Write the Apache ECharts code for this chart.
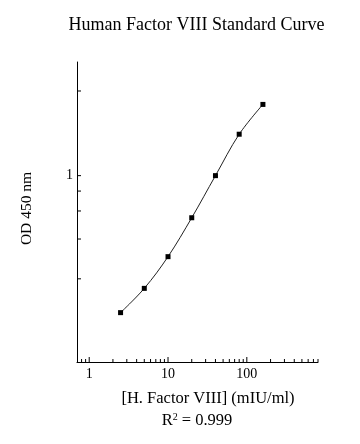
<!DOCTYPE html>
<html>
<head>
<meta charset="utf-8">
<script src="https://cdn.jsdelivr.net/npm/echarts@6/dist/echarts.min.js"></script>
<style>
html,body{margin:0;padding:0;background:#fff;}
#chart{width:360px;height:444px;}
</style>
</head>
<body>
<div id="chart"></div>
<script>
// ---- data ----
const concentrations = [2.5, 5, 10, 20, 40, 80, 160];
const odValues = [0.138, 0.196, 0.31, 0.544, 1.0, 1.82, 2.8];
const xLabels = [1, 10, 100];
const xMinorTicks = [0.8, 0.9, 2, 3, 4, 5, 6, 7, 8, 9, 20, 30, 40, 50, 60, 70, 80, 90, 200, 300, 400, 500, 600, 700, 800];
const yLabels = [1];
const yTicks = [3.4, 1, 0.8, 0.6, 0.4, 0.225];
const xRange = [0.7, 800];
const yRange = [0.0676, 5.17];

const FONT = "'Liberation Serif', 'Times New Roman', serif";

const tickData = [];
xLabels.forEach(v => tickData.push([v, yRange[0], 0]));
xMinorTicks.forEach(v => tickData.push([v, yRange[0], 1]));
yTicks.forEach(v => tickData.push([xRange[0], v, 2]));

function findLabel(list, v) {
  const m = list.find(l => Math.abs(l - v) / l < 1e-6);
  return m === undefined ? '' : String(m);
}

const chart = echarts.init(document.getElementById('chart'), null, {renderer: 'canvas'});
chart.setOption({
  animation: false,
  backgroundColor: '#fff',
  grid: {left: 77, right: 42, top: 62, bottom: 82, containLabel: false, outerBoundsMode: 'none'},
  xAxis: {
    type: 'log', logBase: 10, min: xRange[0], max: xRange[1],
    axisLine: {show: true, lineStyle: {color: '#000', width: 1}},
    axisTick: {show: false},
    splitLine: {show: false},
    minorTick: {show: false},
    axisLabel: {
      color: '#000', fontFamily: FONT, fontSize: 14, margin: 5,
      showMinLabel: true, showMaxLabel: true, hideOverlap: false,
      formatter: v => findLabel(xLabels, v)
    }
  },
  yAxis: {
    type: 'log', logBase: 10, min: yRange[0], max: yRange[1],
    axisLine: {show: true, lineStyle: {color: '#000', width: 1}},
    axisTick: {show: false},
    splitLine: {show: false},
    minorTick: {show: false},
    axisLabel: {
      color: '#000', fontFamily: FONT, fontSize: 14, margin: 4, hideOverlap: false,
      formatter: v => findLabel(yLabels, v)
    }
  },
  graphic: [
    {type: 'text', x: 196.5, y: 25, style: {text: 'Human Factor VIII Standard Curve', fontFamily: FONT, fontSize: 18, fill: '#000', align: 'center', verticalAlign: 'middle'}},
    {type: 'text', x: 208, y: 399, style: {text: '[H. Factor VIII] (mIU/ml)', fontFamily: FONT, fontSize: 16.5, fill: '#000', align: 'center', verticalAlign: 'middle'}},
    {type: 'text', x: 197, y: 421, style: {text: 'R{sup|2} = 0.999', fontFamily: FONT, fontSize: 16.5, fill: '#000', align: 'center', verticalAlign: 'middle',
      rich: {sup: {fontFamily: FONT, fontSize: 10, fill: '#000', padding: [0, 0, 8, 0]}}}},
    {type: 'text', x: 26.5, y: 208.5, rotation: Math.PI / 2, style: {text: 'OD 450 nm', fontFamily: FONT, fontSize: 15.5, fill: '#000', align: 'center', verticalAlign: 'middle'}}
  ],
  series: [
    {
      type: 'line',
      data: concentrations.map((c, i) => [c, odValues[i]]),
      smooth: 0.35,
      symbol: 'rect', symbolSize: 5,
      itemStyle: {color: '#000'},
      lineStyle: {color: '#222', width: 1},
      z: 3
    },
    {
      type: 'custom',
      data: tickData,
      clip: false,
      silent: true,
      renderItem: (params, api) => {
        const p = api.coord([api.value(0), api.value(1)]);
        const kind = api.value(2);
        let shape;
        if (kind === 0) shape = {x1: p[0], y1: p[1], x2: p[0], y2: p[1] - 5};
        else if (kind === 1) shape = {x1: p[0], y1: p[1], x2: p[0], y2: p[1] - 3};
        else shape = {x1: p[0], y1: p[1], x2: p[0] + 4, y2: p[1]};
        return {type: 'line', shape: shape, style: {stroke: '#000', lineWidth: 1}};
      },
      z: 2
    }
  ]
});
</script>
</body>
</html>
